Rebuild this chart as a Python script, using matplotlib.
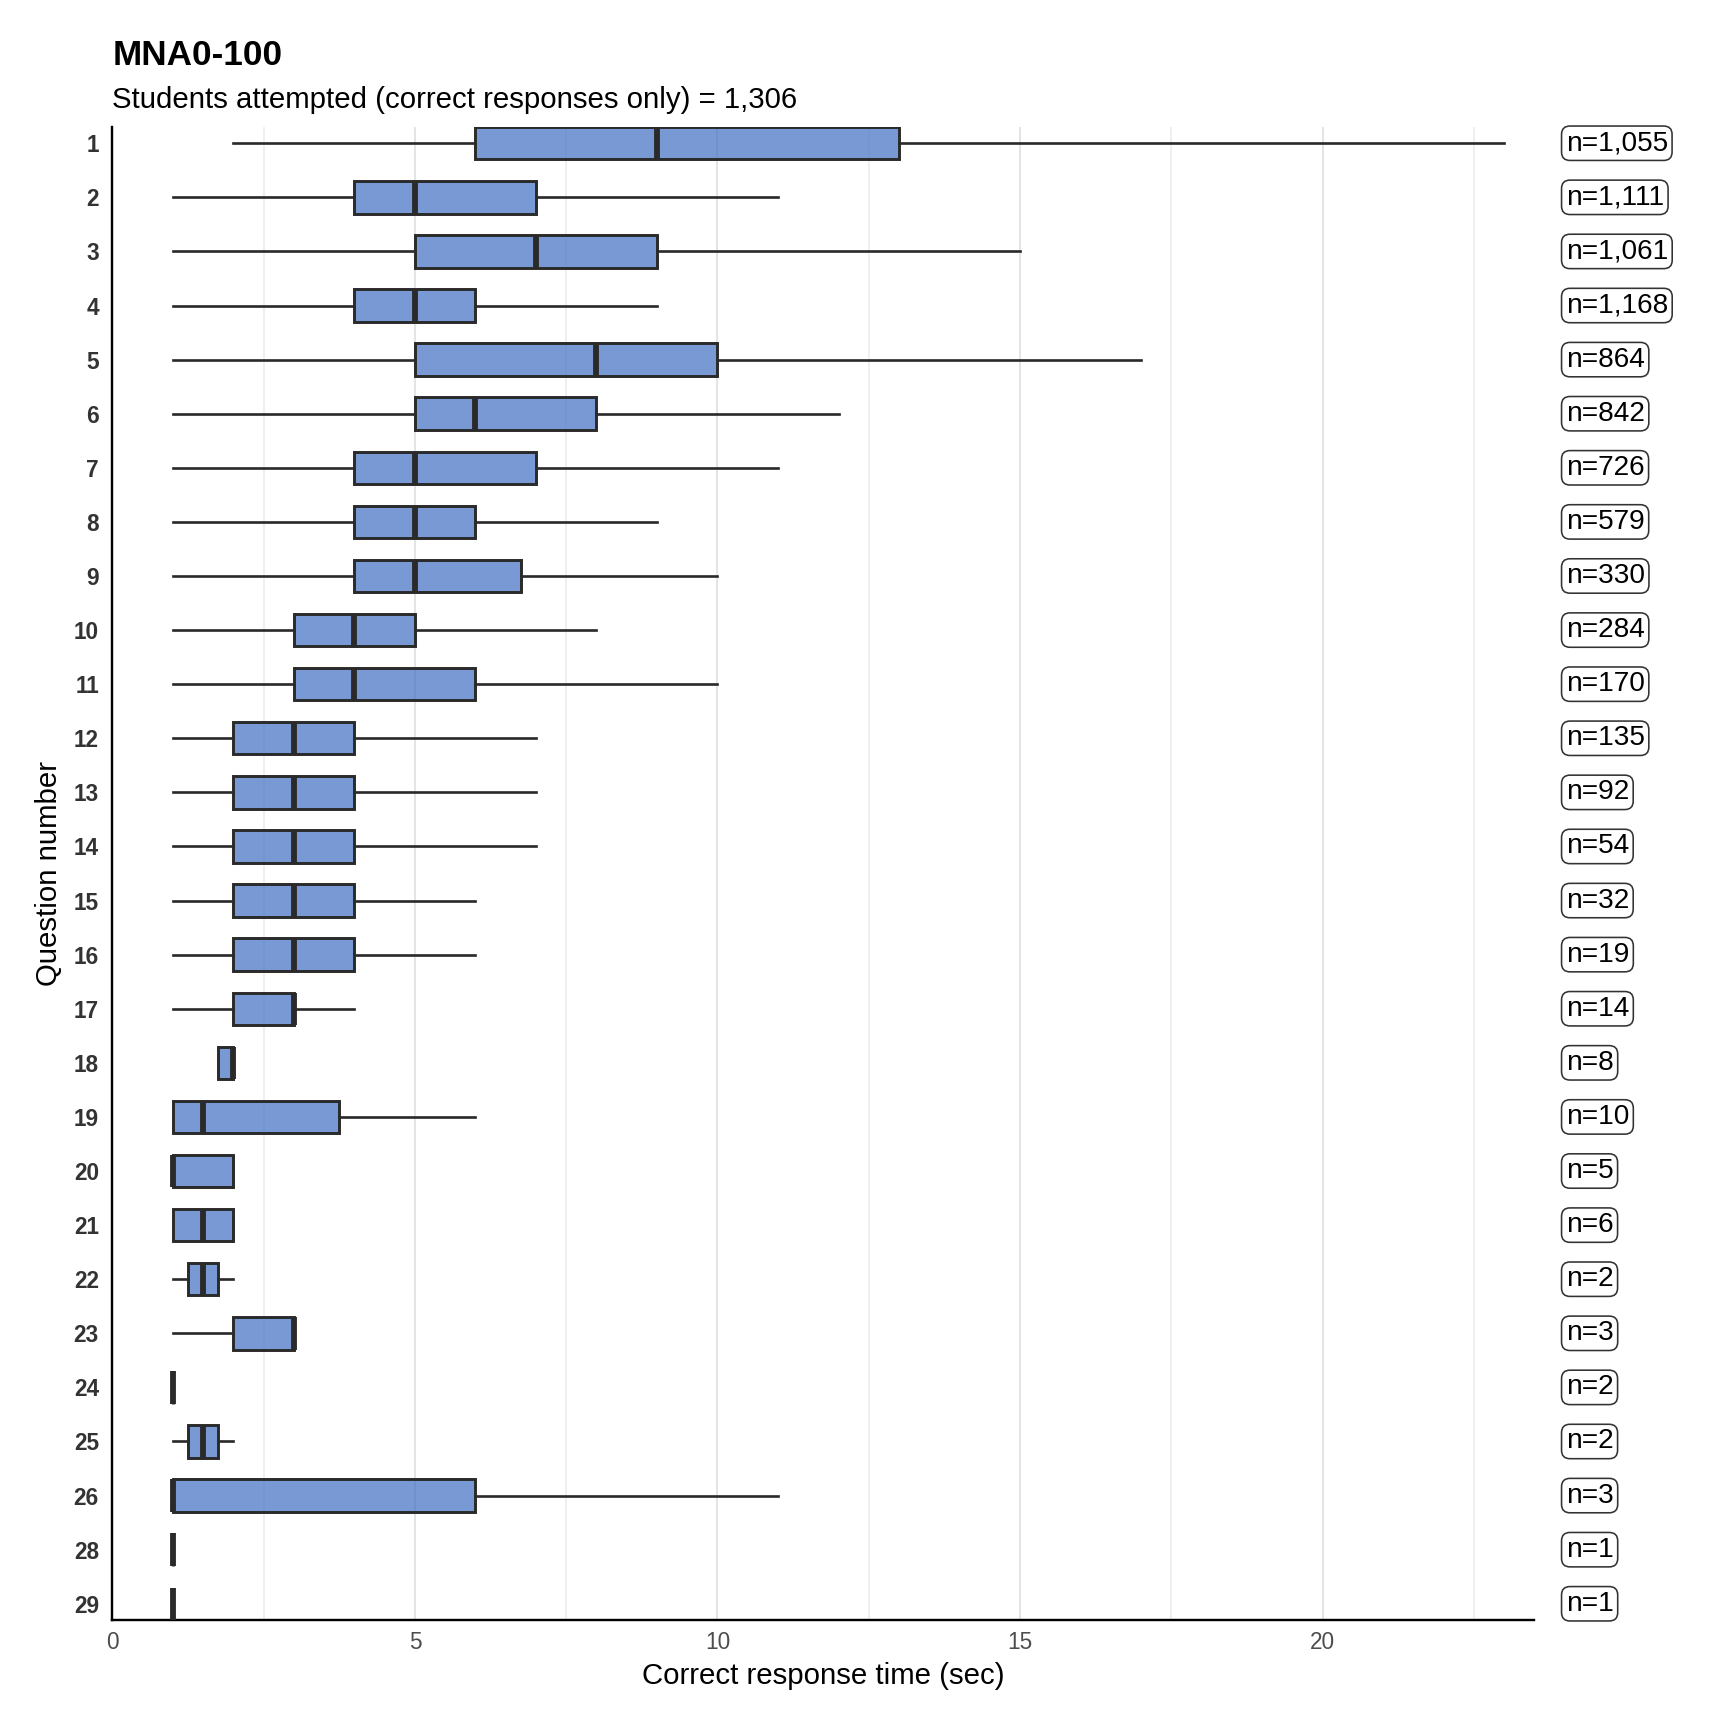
import matplotlib.pyplot as plt
from matplotlib.ticker import MultipleLocator
import matplotlib.transforms as mtransforms

plt.rcParams['font.family'] = ['Liberation Sans', 'DejaVu Sans']

questions = ['1', '2', '3', '4', '5', '6', '7', '8', '9', '10', '11', '12', '13', '14',
             '15', '16', '17', '18', '19', '20', '21', '22', '23', '24', '25', '26', '28', '29']
whisker_lo = [2, 1, 1, 1, 1, 1, 1, 1, 1, 1, 1, 1, 1, 1, 1, 1, 1, 1.75, 1, 1, 1, 1, 1, 1, 1, 1, 1, 1]
q1 = [6, 4, 5, 4, 5, 5, 4, 4, 4, 3, 3, 2, 2, 2, 2, 2, 2, 1.75, 1, 1, 1, 1.25, 2, 1, 1.25, 1, 1, 1]
median = [9, 5, 7, 5, 8, 6, 5, 5, 5, 4, 4, 3, 3, 3, 3, 3, 3, 2, 1.5, 1, 1.5, 1.5, 3, 1, 1.5, 1, 1, 1]
q3 = [13, 7, 9, 6, 10, 8, 7, 6, 6.75, 5, 6, 4, 4, 4, 4, 4, 3, 2, 3.75, 2, 2, 1.75, 3, 1, 1.75, 6, 1, 1]
whisker_hi = [23, 11, 15, 9, 17, 12, 11, 9, 10, 8, 10, 7, 7, 7, 6, 6, 4, 2, 6, 2, 2, 2, 3, 1, 2, 11, 1, 1]
n_labels = ['n=1,055', 'n=1,111', 'n=1,061', 'n=1,168', 'n=864', 'n=842', 'n=726', 'n=579',
            'n=330', 'n=284', 'n=170', 'n=135', 'n=92', 'n=54', 'n=32', 'n=19', 'n=14', 'n=8',
            'n=10', 'n=5', 'n=6', 'n=2', 'n=3', 'n=2', 'n=2', 'n=3', 'n=1', 'n=1']

stats = []
for i in range(len(questions)):
    stats.append({'whislo': whisker_lo[i], 'q1': q1[i], 'med': median[i],
                  'q3': q3[i], 'whishi': whisker_hi[i], 'label': questions[i]})

fig = plt.figure(figsize=(9, 9), dpi=192)
ax = fig.add_axes([0.065, 0.0625, 0.823, 0.864])

positions = list(range(1, len(questions) + 1))
edge = '#2a2a2a'
fill = (0.267, 0.447, 0.769, 0.72)
ax.bxp(stats, positions=positions, orientation='horizontal', widths=0.6,
       showcaps=False, showfliers=False, patch_artist=True,
       boxprops=dict(facecolor=fill, edgecolor=edge, linewidth=1.1),
       medianprops=dict(color=edge, linewidth=2.2, solid_capstyle='butt'),
       whiskerprops=dict(color=edge, linewidth=1.0),
       zorder=3)

ax.set_ylim(len(questions) + 0.3, 0.7)
ax.set_xlim(0, 23.5)
ax.set_yticks(positions)
ax.set_yticklabels(questions, fontweight='bold', color='#333333', fontsize=8.5)

ax.xaxis.set_major_locator(MultipleLocator(5))
ax.xaxis.set_minor_locator(MultipleLocator(2.5))
ax.grid(axis='x', which='major', color='#dedede', linewidth=0.6, zorder=0)
ax.grid(axis='x', which='minor', color='#ececec', linewidth=0.6, zorder=0)
ax.grid(axis='y', visible=False)
ax.set_axisbelow(True)
ax.tick_params(axis='both', which='both', length=0)
ax.tick_params(axis='x', labelsize=8.5, labelcolor='#4d4d4d', pad=4)
ax.tick_params(axis='y', pad=5)

for side in ['top', 'right']:
    ax.spines[side].set_visible(False)
for side in ['left', 'bottom']:
    ax.spines[side].set_linewidth(0.9)
    ax.spines[side].set_color('black')

ax.set_xlabel('Correct response time (sec)', fontsize=11, labelpad=3)
ax.set_ylabel('Question number', fontsize=11, labelpad=4)

trans = mtransforms.blended_transform_factory(ax.transAxes, ax.transData)
for pos, lab in zip(positions, n_labels):
    ax.text(1.022, pos, lab, transform=trans, ha='left', va='center', fontsize=10.5,
            clip_on=False,
            bbox=dict(boxstyle='round,pad=0.15,rounding_size=0.3', facecolor='white',
                      edgecolor='#333333', linewidth=0.6))

fig.text(0.065, 0.968, 'MNA0-100', fontsize=13.2, fontweight='bold', ha='left', va='center')
fig.text(0.065, 0.942, 'Students attempted (correct responses only) = 1,306', fontsize=11,
         ha='left', va='center')

fig.savefig('out.png', dpi=192, facecolor='white')
